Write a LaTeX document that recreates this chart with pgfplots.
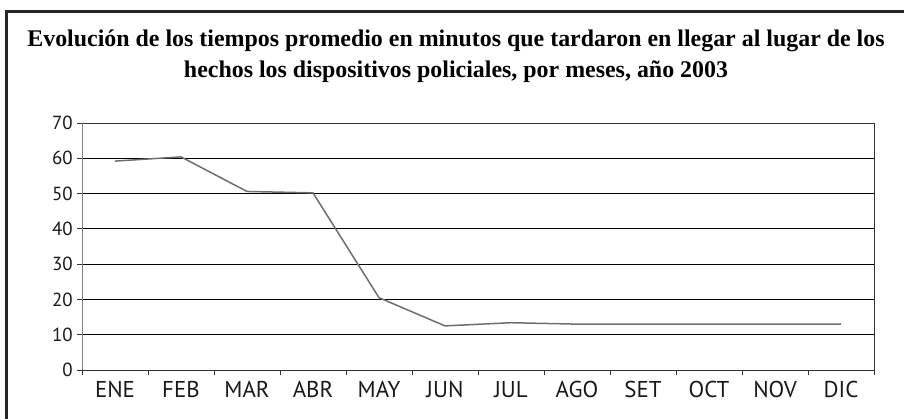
\documentclass[border=0pt]{standalone}
\usepackage{pgfplots}
\pgfplotsset{compat=1.18}
\usepackage{fontspec}
\setmainfont{PT Sans}
\newfontfamily\titlefont{Liberation Serif}
\begin{document}
\begin{tikzpicture}
\useasboundingbox (0bp,0bp) rectangle (904bp,419bp);
\draw[line width=3bp, black!85] (6.5bp,-20bp) -- (6.5bp,407.5bp) -- (930bp,407.5bp);
\node[font=\titlefont\bfseries\fontsize{24}{28}\selectfont, anchor=base] at (456bp,372bp) {Evolución de los tiempos promedio en minutos que tardaron en llegar al lugar de los};
\node[font=\titlefont\bfseries\fontsize{24}{28}\selectfont, anchor=base] at (456bp,341bp) {hechos los dispositivos policiales, por meses, año 2003};
\begin{axis}[
  at={(82bp,49bp)}, anchor=south west,
  scale only axis, width=792bp, height=247bp,
  xmin=0.5, xmax=12.5, ymin=0, ymax=70,
  xtick={1,...,12},
  xticklabels={ENE,FEB,MAR,ABR,MAY,JUN,JUL,AGO,SET,OCT,NOV,DIC},
  minor xtick={0.5,1.5,...,12.5},
  ytick={0,10,...,70},
  tick pos=left,
  ymajorgrids,
  major grid style={black, line width=0.8bp},
  axis line style={black!80, line width=0.8bp},
  tick align=outside,
  x tick style={draw=none},
  minor x tick style={draw=black!80, line width=0.8bp},
  y tick style={black!80, line width=0.8bp},
  major tick length=5bp, minor tick length=5bp,
  /pgf/number format/assume math mode=true,
  xticklabel style={font=\fontsize{23}{25}\selectfont, text=black!90, anchor=base, yshift=-22bp},
  yticklabel style={font=\fontsize{19}{21}\selectfont, text=black!90, anchor=east, inner sep=0pt, xshift=-4bp},
  clip=false,
]
\addplot[color={rgb,255:red,110;green,110;blue,110}, line width=1.5bp] coordinates {
(1,59.2) (2,60.4) (3,50.6) (4,50.2) (5,20.5) (6,12.5) (7,13.4) (8,13) (9,13) (10,13) (11,13) (12,13)
};
\end{axis}
\draw[gray, line width=0.8bp] (82bp,49bp) -- (82bp,296bp);
\end{tikzpicture}
\end{document}
